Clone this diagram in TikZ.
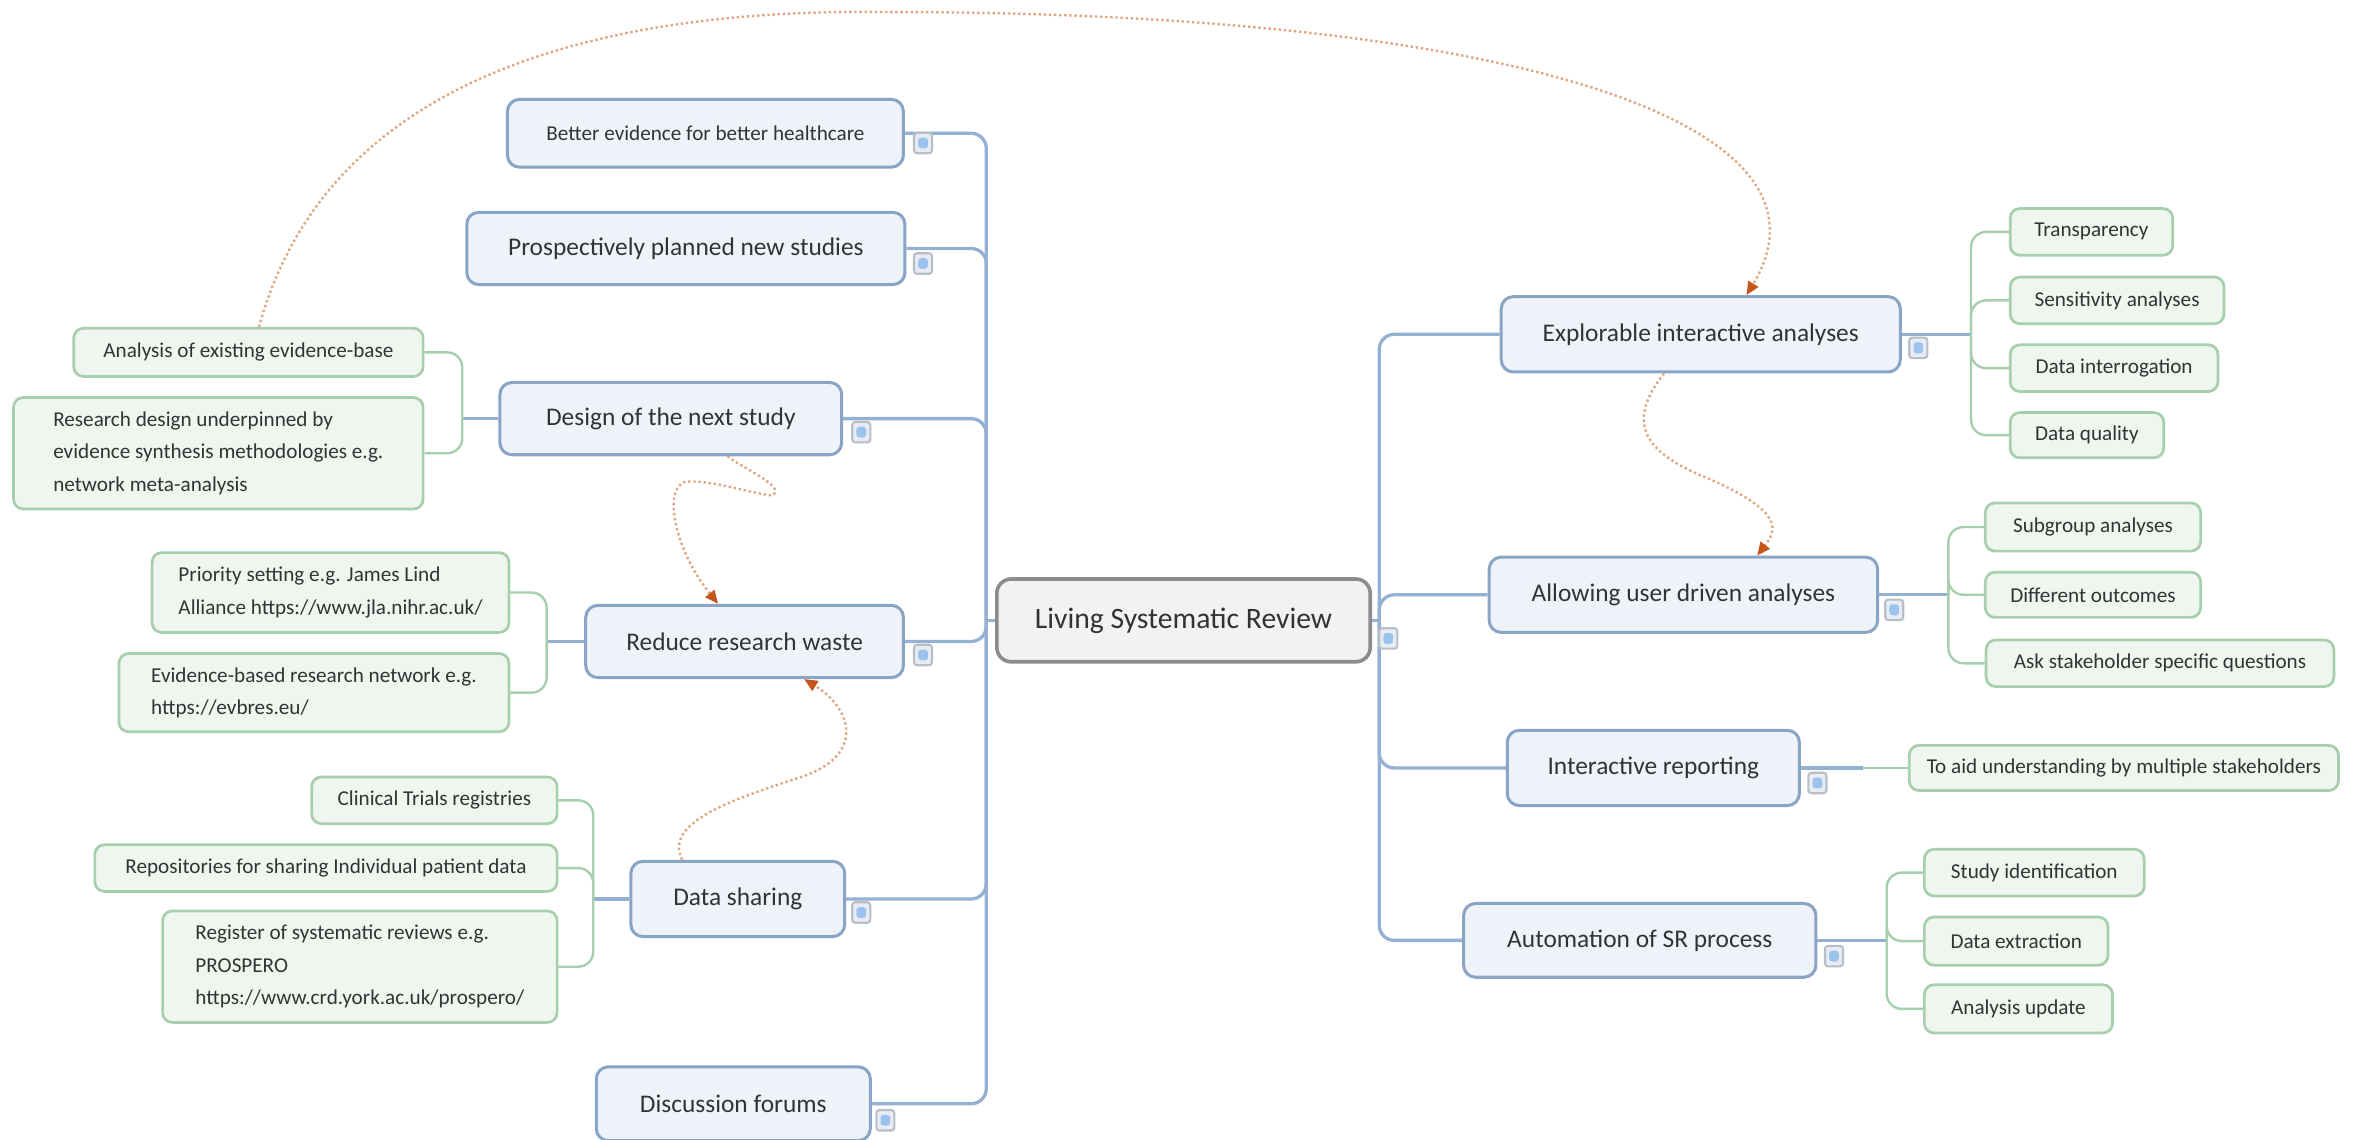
\documentclass[tikz,border=0pt]{standalone}
\usepackage{fontspec}
\setmainfont{Carlito}
\usetikzlibrary{arrows.meta}
\definecolor{lvlfill}{HTML}{EEF3FA}
\definecolor{lvldraw}{HTML}{8AA4C6}
\definecolor{leaffill}{HTML}{EEF6EF}
\definecolor{leafdraw}{HTML}{A8CFAD}
\definecolor{mainfill}{HTML}{F2F2F2}
\definecolor{maindraw}{HTML}{8C8C8C}
\definecolor{trunkcol}{HTML}{94B0D2}
\definecolor{txt}{HTML}{333333}
\definecolor{relcol}{HTML}{DDA883}
\definecolor{tipcol}{HTML}{C4561C}
\definecolor{togdraw}{HTML}{B8BEC8}
\definecolor{togfill}{HTML}{E8ECF2}
\definecolor{togin}{HTML}{9CC2EE}
\begin{document}
\begin{tikzpicture}[x=0.25mm,y=-0.25mm,
  sz/.style 2 args={minimum width=#1*0.25mm, minimum height=#2*0.25mm},
  lvl/.style={draw=lvldraw, fill=lvlfill, line width=0.5mm, rounded corners=2mm, inner sep=0pt, text=txt, font=\fontsize{12}{14}\selectfont},
  leaf/.style={draw=leafdraw, fill=leaffill, line width=0.45mm, rounded corners=1.6mm, inner sep=0pt, text=txt, font=\fontsize{10}{15.3}\selectfont},
  mainbox/.style={draw=maindraw, fill=mainfill, line width=0.6mm, rounded corners=2.4mm, inner sep=0pt, text=txt, font=\fontsize{14}{16}\selectfont},
  tog/.style={draw=togdraw, fill=togfill, line width=0.35mm, rounded corners=0.5mm, minimum width=3mm, minimum height=3.4mm, inner sep=0pt,
    path picture={\fill[togin] ([xshift=-0.8mm,yshift=-0.9mm]path picture bounding box.center) rectangle ([xshift=0.8mm,yshift=0.9mm]path picture bounding box.center);}},
  trunk/.style={draw=trunkcol, line width=0.55mm, rounded corners=2.5mm},
  leafline/.style={draw=leafdraw, line width=0.4mm, rounded corners=2.5mm},
  rel/.style={draw=relcol, line width=0.4mm, dash pattern=on 0.4mm off 0.45mm, -{Triangle[length=2.2mm,width=1.9mm,color=tipcol,fill=tipcol]}}
]
\useasboundingbox (0,0) rectangle (1568,757);

% main
\node[mainbox, sz={248}{55}] (main) at (786,412) {Living Systematic Review};

% left level-1
\node[lvl, sz={263}{45}, font=\fontsize{10}{12}\selectfont] (b1) at (468.5,88.5) {Better evidence for better healthcare};
\node[lvl, sz={291}{48}] (b2) at (455.5,165) {Prospectively planned new studies};
\node[lvl, sz={227}{48}] (b3) at (445.5,278) {Design of the next study};
\node[lvl, sz={211}{48}] (b4) at (494.5,426) {Reduce research waste};
\node[lvl, sz={142}{50}] (b5) at (490,597) {Data sharing};
\node[lvl, sz={182}{49}] (b6) at (487,733) {Discussion forums};

% right level-1
\node[lvl, sz={265}{50}] (r1) at (1129.5,222) {Explorable interactive analyses};
\node[lvl, sz={258}{50}] (r2) at (1118,395) {Allowing user driven analyses};
\node[lvl, sz={194}{50}] (r3) at (1098,510) {Interactive reporting};
\node[lvl, sz={234}{49}] (r4) at (1089,624.5) {Automation of SR process};

% left leaves
\node[leaf, sz={232}{32}] (a1) at (165,234) {Analysis of existing evidence-base};
\node[leaf, sz={272}{74}, align=left] (a2) at (145,301) {Research design underpinned by\\evidence synthesis methodologies e.g.\\network meta-analysis};
\node[leaf, sz={237}{53}, align=left] (p1) at (219.5,393.5) {Priority setting e.g. James Lind\\Alliance https://www.jla.nihr.ac.uk/};
\node[leaf, sz={259}{52}, align=left] (p2) at (208.5,460) {Evidence-based research network e.g.\\https://evbres.eu/};
\node[leaf, sz={163}{31}] (c1) at (288.5,531.5) {Clinical Trials registries};
\node[leaf, sz={307}{31}] (c2) at (216.5,576.5) {Repositories for sharing Individual patient data};
\node[leaf, sz={262}{74}, align=left] (c3) at (239,642) {Register of systematic reviews e.g.\\PROSPERO\\https://www.crd.york.ac.uk/prospero/};

% right leaves
\node[leaf, sz={108}{31}] (e1) at (1389,154) {Transparency};
\node[leaf, sz={142}{31}] (e2) at (1406,199.5) {Sensitivity analyses};
\node[leaf, sz={138}{31}] (e3) at (1404,244.5) {Data interrogation};
\node[leaf, sz={102}{30}] (e4) at (1386,289) {Data quality};
\node[leaf, sz={143}{32}] (u1) at (1390,350) {Subgroup analyses};
\node[leaf, sz={143}{30}] (u2) at (1390,395) {Different outcomes};
\node[leaf, sz={231}{31}] (u3) at (1434.5,440.5) {Ask stakeholder specific questions};
\node[leaf, sz={285}{30}] (i1) at (1410.5,510) {To aid understanding by multiple stakeholders};
\node[leaf, sz={146}{31}] (s1) at (1351,579.5) {Study identification};
\node[leaf, sz={122}{32}] (s2) at (1339,625) {Data extraction};
\node[leaf, sz={125}{32}] (s3) at (1340.5,670) {Analysis update};

% junctions
\coordinate (LJ) at (655,412);
\coordinate (RJ) at (916,412);
\coordinate (dJ) at (307,278);
\coordinate (pJ) at (363,426);
\coordinate (cJ) at (394,597);
\coordinate (eJ) at (1309,222);
\coordinate (uJ) at (1294,395);
\coordinate (iJ) at (1237,510);
\coordinate (sJ) at (1253,624.5);

% trunk connectors
\draw[trunk] (LJ) -- (main.west);
\draw[trunk] (main.east) -- (RJ);
\foreach \n in {b1,b2,b3,b4,b5,b6} \draw[trunk] (\n.east) -| (LJ);
\foreach \n in {r1,r2,r3,r4} \draw[trunk] (\n.west) -| (RJ);

% branch to brackets
\draw[trunk] (b3.west) -- (dJ);
\draw[trunk] (b4.west) -- (pJ);
\draw[trunk] (b5.west) -- (cJ);
\draw[trunk] (r1.east) -- (eJ);
\draw[trunk] (r2.east) -- (uJ);
\draw[trunk] (r3.east) -- (iJ);
\draw[trunk] (r4.east) -- (sJ);

% leaf brackets
\foreach \n in {a1,a2} \draw[leafline] (\n.east) -| (dJ);
\foreach \n in {p1,p2} \draw[leafline] (\n.east) -| (pJ);
\foreach \n in {c1,c2,c3} \draw[leafline] (\n.east) -| (cJ);
\foreach \n in {e1,e2,e3,e4} \draw[leafline] (\n.west) -| (eJ);
\foreach \n in {u1,u2,u3} \draw[leafline] (\n.west) -| (uJ);
\draw[leafline] (iJ) -- (i1.west);
\foreach \n in {s1,s2,s3} \draw[leafline] (\n.west) -| (sJ);

% relationship arrows
\draw[rel] ([xshift=1.75mm]a1.north) .. controls (215,60) and (380,5) .. (590,8)
  .. controls (1000,8) and (1230,80) .. ([xshift=7.6mm]r1.north);
\draw[rel] ([xshift=-6.1mm]r1.south) .. controls (1080,280) and (1090,300) .. (1135,318)
  .. controls (1185,340) and (1180,352) .. ([xshift=12.25mm]r2.north);
\draw[rel] ([xshift=9.4mm]b3.south) .. controls (495,312) and (522,323) .. (513,329)
  .. controls (500,328) and (470,318) .. (455,320)
  .. controls (440,325) and (448,365) .. ([xshift=-4.4mm]b4.north);
\draw[rel] ([xshift=-9.25mm]b5.north) .. controls (440,545) and (490,530) .. (535,515)
  .. controls (575,500) and (565,470) .. ([xshift=9.9mm]b4.south);

% toggles
\node[tog] (tb1) at (613,95) {};
\node[tog] (tb2) at (613,175) {};
\node[tog] (tb3) at (572,287) {};
\node[tog] (tb4) at (613,435) {};
\node[tog] (tb5) at (572,606) {};
\node[tog] (tb6) at (588,744) {};
\node[tog] (tm) at (922,424) {};
\node[tog] (tr1) at (1274,231) {};
\node[tog] (tr2) at (1258,405) {};
\node[tog] (tr3) at (1207,520) {};
\node[tog] (tr4) at (1218,635) {};
\end{tikzpicture}
\end{document}
